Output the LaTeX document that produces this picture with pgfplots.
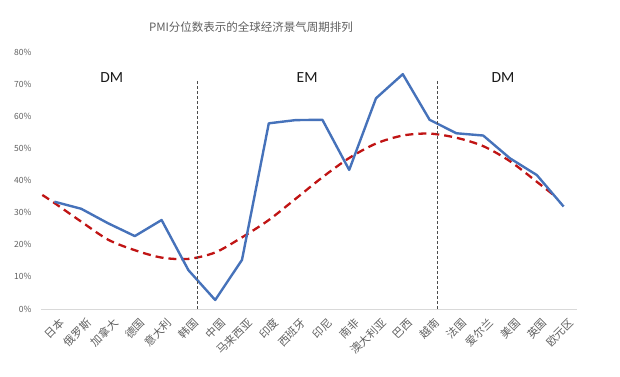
\documentclass[border=0pt]{standalone}
\usepackage{fontspec}
\setmainfont{Noto Sans CJK SC}
\newfontfamily\latinfont{Carlito}
\usepackage{pgfplots}
\pgfplotsset{compat=1.18}
\definecolor{tickgray}{RGB}{95,95,95}
\definecolor{lineblue}{RGB}{70,114,186}
\definecolor{trendred}{RGB}{192,20,20}
\definecolor{axgray}{RGB}{217,217,217}
\begin{document}
\begin{tikzpicture}
\useasboundingbox (0,0) rectangle (620bp,377bp);
\begin{axis}[at={(41bp,68bp)}, anchor=south west, scale only axis,
  width=536bp, height=257bp,
  xmin=-0.5, xmax=19.5, ymin=0, ymax=80,
  separate axis lines,
  axis x line*=bottom, axis y line*=left,
  x axis line style={draw=axgray, line width=0.8bp},
  y axis line style={draw=none},
  major tick length=0,
  xtick={0,...,19},
  xticklabels={日本,俄罗斯,加拿大,德国,意大利,韩国,中国,马来西亚,印度,西班牙,印尼,南非,澳大利亚,巴西,越南,法国,爱尔兰,美国,英国,欧元区},
  xticklabel style={rotate=45, anchor=east, font=\fontsize{11bp}{12bp}\selectfont, text=tickgray, yshift=-14bp, xshift=-2bp, inner sep=0.5bp},
  ytick={0,10,...,80},
  yticklabel={\pgfmathprintnumber{\tick}\%},
  yticklabel style={font=\fontsize{8.5bp}{10bp}\selectfont, text=tickgray, xshift=-6bp},
  /pgf/number format/assume math mode=true,
  clip=false,
]
\addplot[trendred, line width=2.3bp, dash pattern=on 8bp off 5bp, smooth] coordinates {
(-0.45,35.5) (0,33) (1,27.2) (2,21.6) (3,18.3) (4,16.0) (5,15.6) (6,17.6) (7,22.3) (8,27.7) (9,34.3) (10,41) (11,47) (12,51.5) (13,54) (14,54.6) (15,53.3) (16,50.7) (17,46) (18,39.6) (18.7,35)
};
\addplot[lineblue, line width=2.4bp, line join=round] coordinates {
(0,33.4) (1,31.2) (2,26.7) (3,22.7) (4,27.7) (5,12.1) (6,2.8) (7,15.3) (8,57.8) (9,58.8) (10,58.9) (11,43.3) (12,65.6) (13,73.1) (14,58.9) (15,54.7) (16,54.0) (17,46.9) (18,41.7) (19,31.9)
};
\draw[black!70, line width=0.8bp, dash pattern=on 3bp off 2bp] (axis cs:5.35,0) -- (axis cs:5.35,71);
\draw[black!70, line width=0.8bp, dash pattern=on 3bp off 2bp] (axis cs:14.29,0) -- (axis cs:14.29,71);
\node[font=\latinfont\fontsize{15.5bp}{18bp}\selectfont, text=black!90] at (axis cs:2.14,72) {DM};
\node[font=\latinfont\fontsize{15.5bp}{18bp}\selectfont, text=black!90] at (axis cs:9.43,72) {EM};
\node[font=\latinfont\fontsize{15.5bp}{18bp}\selectfont, text=black!90] at (axis cs:16.74,72) {DM};
\end{axis}
\node[font=\fontsize{11.5bp}{14bp}\selectfont, text=tickgray] at (251bp,350bp) {PMI分位数表示的全球经济景气周期排列};
\end{tikzpicture}
\end{document}
